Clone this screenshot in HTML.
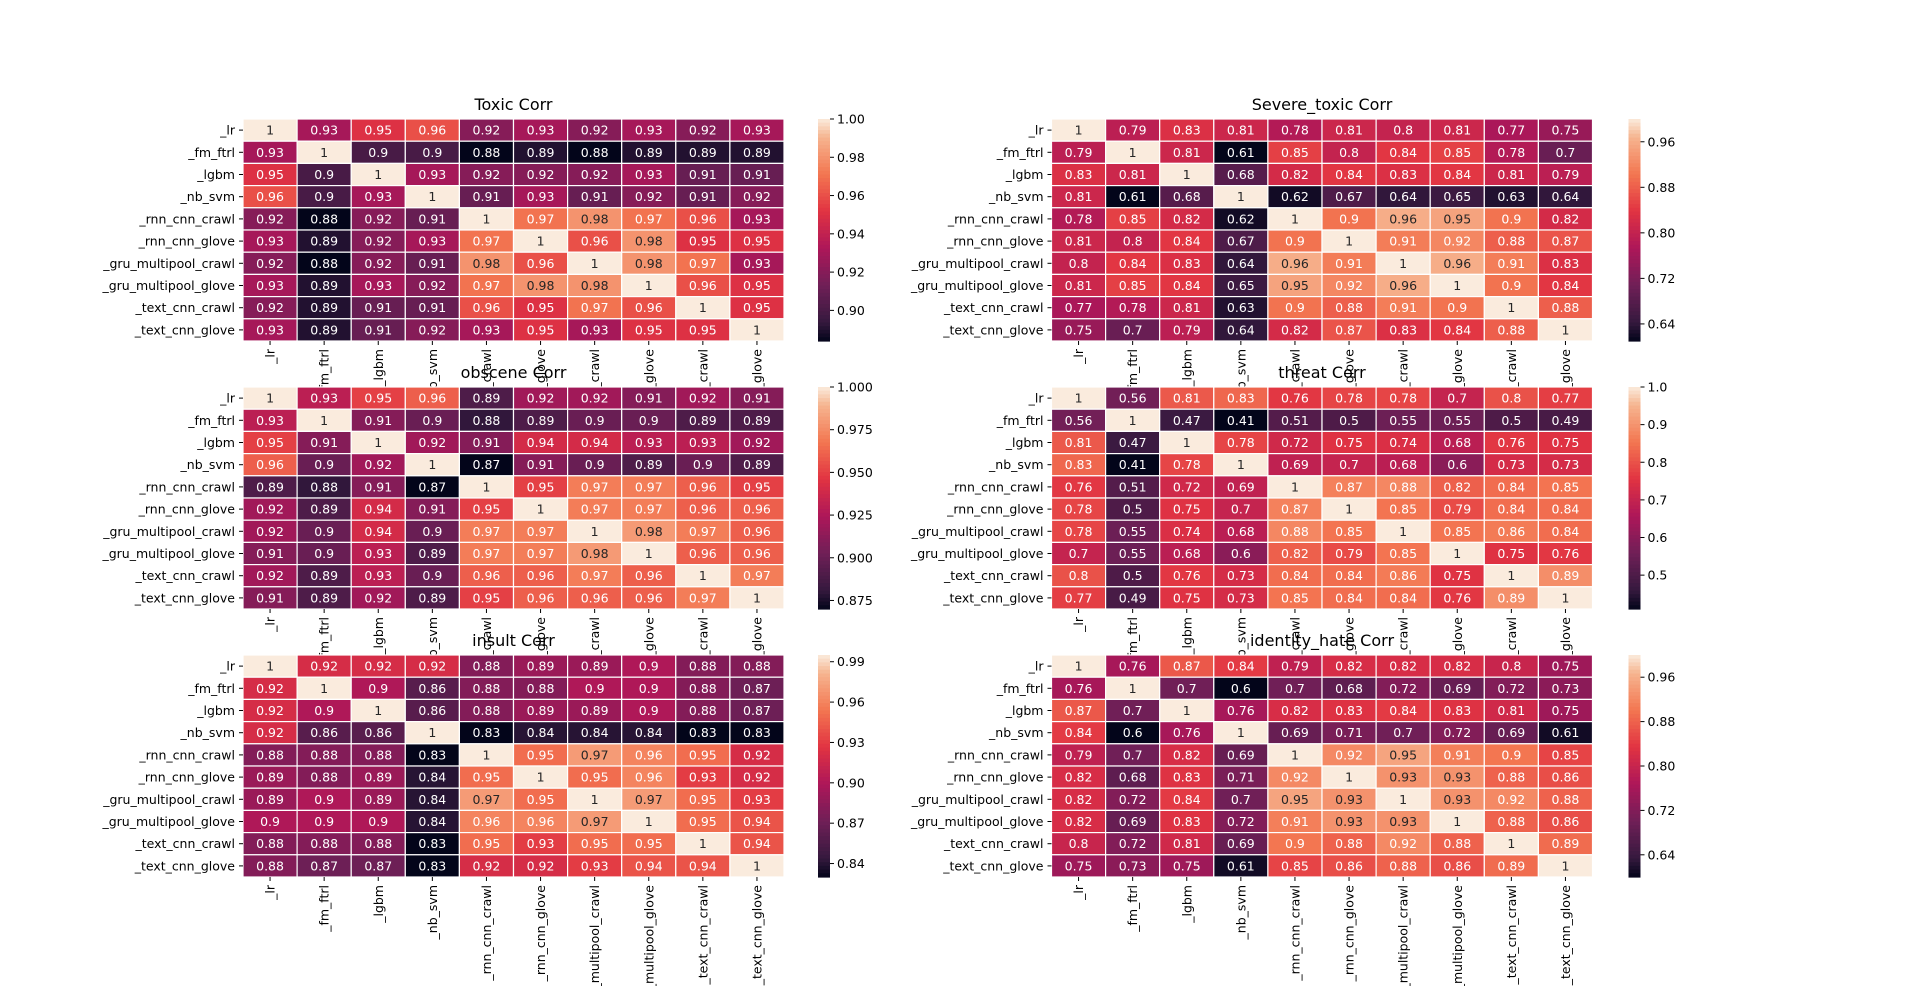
<!DOCTYPE html>
<html><head><meta charset="utf-8"><style>
body{margin:0;background:#fff;width:1920px;height:986px;overflow:hidden}
svg{display:block;font-family:"DejaVu Sans","Liberation Sans",sans-serif}
</style></head><body>
<svg id="fig" width="1920" height="986"></svg>
<script>
const labels=["_lr","_fm_ftrl","_lgbm","_nb_svm","_rnn_cnn_crawl","_rnn_cnn_glove","_gru_multipool_crawl","_gru_multipool_glove","_text_cnn_crawl","_text_cnn_glove"];
const titles=["Toxic Corr","Severe_toxic Corr","obscene Corr","threat Corr","insult Corr","identity_hate Corr"];
const vmins=[0.884,0.61,0.87,0.41,0.83,0.60];
const vmaxs=[1,1,1,1,0.995,1];
const ticks0=[0.90,0.92,0.94,0.96,0.98,1.00];
const ticks1=[0.64,0.72,0.80,0.88,0.96];
const ticks2=[0.875,0.900,0.925,0.950,0.975,1.000];
const ticks3=[0.5,0.6,0.7,0.8,0.9,1.0];
const ticks4=[0.84,0.87,0.90,0.93,0.96,0.99];
const ticks5=[0.64,0.72,0.80,0.88,0.96];
const tickDigits=[2,2,3,1,2,2];
const toxic=[[1,.93,.95,.96,.92,.93,.92,.93,.92,.93],[.93,1,.9,.9,.88,.89,.88,.89,.89,.89],[.95,.9,1,.93,.92,.92,.92,.93,.91,.91],[.96,.9,.93,1,.91,.93,.91,.92,.91,.92],[.92,.88,.92,.91,1,.97,.98,.97,.96,.93],[.93,.89,.92,.93,.97,1,.96,.98,.95,.95],[.92,.88,.92,.91,.98,.96,1,.98,.97,.93],[.93,.89,.93,.92,.97,.98,.98,1,.96,.95],[.92,.89,.91,.91,.96,.95,.97,.96,1,.95],[.93,.89,.91,.92,.93,.95,.93,.95,.95,1]];
const severe=[[1,.79,.83,.81,.78,.81,.8,.81,.77,.75],[.79,1,.81,.61,.85,.8,.84,.85,.78,.7],[.83,.81,1,.68,.82,.84,.83,.84,.81,.79],[.81,.61,.68,1,.62,.67,.64,.65,.63,.64],[.78,.85,.82,.62,1,.9,.96,.95,.9,.82],[.81,.8,.84,.67,.9,1,.91,.92,.88,.87],[.8,.84,.83,.64,.96,.91,1,.96,.91,.83],[.81,.85,.84,.65,.95,.92,.96,1,.9,.84],[.77,.78,.81,.63,.9,.88,.91,.9,1,.88],[.75,.7,.79,.64,.82,.87,.83,.84,.88,1]];
const obscene=[[1,.93,.95,.96,.89,.92,.92,.91,.92,.91],[.93,1,.91,.9,.88,.89,.9,.9,.89,.89],[.95,.91,1,.92,.91,.94,.94,.93,.93,.92],[.96,.9,.92,1,.87,.91,.9,.89,.9,.89],[.89,.88,.91,.87,1,.95,.97,.97,.96,.95],[.92,.89,.94,.91,.95,1,.97,.97,.96,.96],[.92,.9,.94,.9,.97,.97,1,.98,.97,.96],[.91,.9,.93,.89,.97,.97,.98,1,.96,.96],[.92,.89,.93,.9,.96,.96,.97,.96,1,.97],[.91,.89,.92,.89,.95,.96,.96,.96,.97,1]];
const threat=[[1,.56,.81,.83,.76,.78,.78,.7,.8,.77],[.56,1,.47,.41,.51,.5,.55,.55,.5,.49],[.81,.47,1,.78,.72,.75,.74,.68,.76,.75],[.83,.41,.78,1,.69,.7,.68,.6,.73,.73],[.76,.51,.72,.69,1,.87,.88,.82,.84,.85],[.78,.5,.75,.7,.87,1,.85,.79,.84,.84],[.78,.55,.74,.68,.88,.85,1,.85,.86,.84],[.7,.55,.68,.6,.82,.79,.85,1,.75,.76],[.8,.5,.76,.73,.84,.84,.86,.75,1,.89],[.77,.49,.75,.73,.85,.84,.84,.76,.89,1]];
const insult=[[1,.92,.92,.92,.88,.89,.89,.9,.88,.88],[.92,1,.9,.86,.88,.88,.9,.9,.88,.87],[.92,.9,1,.86,.88,.89,.89,.9,.88,.87],[.92,.86,.86,1,.83,.84,.84,.84,.83,.83],[.88,.88,.88,.83,1,.95,.97,.96,.95,.92],[.89,.88,.89,.84,.95,1,.95,.96,.93,.92],[.89,.9,.89,.84,.97,.95,1,.97,.95,.93],[.9,.9,.9,.84,.96,.96,.97,1,.95,.94],[.88,.88,.88,.83,.95,.93,.95,.95,1,.94],[.88,.87,.87,.83,.92,.92,.93,.94,.94,1]];
const identity=[[1,.76,.87,.84,.79,.82,.82,.82,.8,.75],[.76,1,.7,.6,.7,.68,.72,.69,.72,.73],[.87,.7,1,.76,.82,.83,.84,.83,.81,.75],[.84,.6,.76,1,.69,.71,.7,.72,.69,.61],[.79,.7,.82,.69,1,.92,.95,.91,.9,.85],[.82,.68,.83,.71,.92,1,.93,.93,.88,.86],[.82,.72,.84,.7,.95,.93,1,.93,.92,.88],[.82,.69,.83,.72,.91,.93,.93,1,.88,.86],[.8,.72,.81,.69,.9,.88,.92,.88,1,.89],[.75,.73,.75,.61,.85,.86,.88,.86,.89,1]];

const mats=[toxic,severe,obscene,threat,insult,identity];
const tickSets=[ticks0,ticks1,ticks2,ticks3,ticks4,ticks5];
const stops=[[0,[3,5,26]],[1/12,[53,25,62]],[3/12,[112,31,87]],[5/12,[173,23,89]],[7/12,[225,51,66]],[9/12,[243,118,81]],[11/12,[246,180,143]],[1,[250,235,221]]];
function cmap(t){t=Math.max(0,Math.min(1,t));for(let i=1;i<stops.length;i++){if(t<=stops[i][0]){const a=stops[i-1],b=stops[i];const f=(t-a[0])/(b[0]-a[0]);return a[1].map((v,k)=>Math.round(v+(b[1][k]-v)*f));}}return stops[stops.length-1][1];}
function lum(c){const l=c.map(v=>{v/=255;return v<=0.03928?v/12.92:Math.pow((v+0.055)/1.055,2.4)});return 0.2126*l[0]+0.7152*l[1]+0.0722*l[2];}
const NS="http://www.w3.org/2000/svg";
const fig=document.getElementById('fig');
function mk(tag,attrs,parent,text){const e=document.createElementNS(NS,tag);for(const k in attrs)e.setAttribute(k,attrs[k]);if(text!==undefined)e.textContent=text;parent.appendChild(e);return e;}
const lefts=[243,1051.5],tops=[119,387,655],W=541,H=222,CBX=577,CBW=12;
function fmt(v){return String(+v.toFixed(2));}
mats.forEach((m,p)=>{
  const L=lefts[p%2],T=tops[Math.floor(p/2)];
  const vmin=vmins[p],vmax=vmaxs[p];
  const g=mk('g',{},fig);
  
  
  const xs=i=>L+i*W/10, ys=j=>T+j*H/10, cw=W/10, ch=H/10;
  mk('rect',{x:L,y:T,width:W,height:H,fill:'#fff'},g);
  m.forEach((row,j)=>row.forEach((v,i)=>{
    const c=cmap((v-vmin)/(vmax-vmin));
    const r=mk('rect',{x:xs(i),y:ys(j),width:cw,height:ch,fill:`rgb(${c})`,stroke:'#fff','stroke-width':1.2},g);
    
    
    const t=mk('text',{x:xs(i)+cw/2,y:ys(j)+ch/2+4.5,'text-anchor':'middle','font-size':12.5,fill:lum(c)>0.408?'#262626':'#fff'},g,fmt(v));
    
    
  }));
  labels.forEach((lb,j)=>{
    mk('line',{x1:L-4,x2:L,y1:ys(j)+ch/2,y2:ys(j)+ch/2,stroke:'#000'},g);
    const t=mk('text',{x:L-8,y:ys(j)+ch/2+4.5,'text-anchor':'end','font-size':12.5,fill:'#000'},g,lb);
    
    
    const cx=xs(j)+cw/2;
    mk('line',{x1:cx,x2:cx,y1:T+H,y2:T+H+4,stroke:'#000'},g);
    const tx=mk('text',{x:0,y:0,'text-anchor':'end','font-size':12.5,fill:'#000',transform:`translate(${cx+4.5},${T+H+8}) rotate(-90)`},g,lb);
    
    
  });
  const tt=mk('text',{x:L+W/2,y:T-9,'text-anchor':'middle','font-size':16,fill:'#000'},g,titles[p]);
  
  
  const cbx=L+CBX-(p%2?0:2);
  const N=60;
  for(let k=0;k<N;k++){
    const c=cmap(1-(k+0.5)/N);
    mk('rect',{x:cbx,y:T+k*H/N,width:CBW,height:H/N+0.6,fill:`rgb(${c})`},g);
  }
  const cy=v=>T+H-(v-vmin)/(vmax-vmin)*H;
  tickSets[p].forEach(v=>{
    const y=cy(v);
    mk('line',{x1:cbx+CBW,x2:cbx+CBW+4,y1:y,y2:y,stroke:'#000'},g);
    const t=mk('text',{x:cbx+CBW+7,y:y+4.5,'font-size':12.5,fill:'#000'},g,v.toFixed(tickDigits[p]));
    
    
  });
});
</script>
</body></html>
